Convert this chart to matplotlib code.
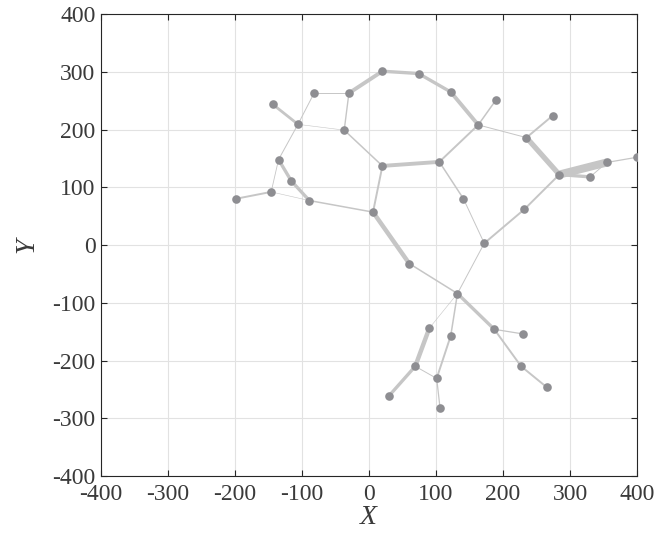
import numpy as np
import matplotlib
matplotlib.use("Agg")
import matplotlib.pyplot as plt

plt.rcParams['font.family'] = ['Liberation Serif', 'DejaVu Serif']
plt.rcParams['mathtext.fontset'] = 'custom'
plt.rcParams['mathtext.it'] = 'Liberation Serif:italic'
plt.rcParams['axes.unicode_minus'] = False

# node coordinates
node_x = [-199, -146, -135, -116, -89, -144, -106, -82, -30, -37,
          20, 74, 122, 20, 105, 163, 190, 235, 274, 284,
          330, 355, 400, 141, 232, 172, 6, 60, 132, 90,
          122, 187, 230, 227, 265, 69, 101, 30, 106]
node_y = [80, 92, 148, 111, 77, 244, 209, 263, 263, 199,
          301, 297, 265, 137, 144, 208, 252, 186, 224, 122,
          118, 143, 152, 80, 62, 3, 57, -32, -84, -144,
          -157, -146, -154, -210, -246, -210, -231, -261, -282]

# edges (node index pairs) and their line widths
edge_from = [0, 1, 1, 2, 3, 2, 6, 6, 6, 7, 8, 8, 10, 11, 9, 13, 13, 4, 26,
             14, 14, 23, 15, 15, 17, 17, 19, 19, 20, 21, 19, 24, 25, 27,
             28, 28, 28, 31, 31, 33, 29, 35, 35, 30, 36, 12]
edge_to = [1, 2, 4, 3, 4, 6, 5, 7, 9, 8, 9, 10, 11, 12, 13, 14, 26, 26, 27,
           15, 23, 25, 16, 17, 18, 19, 21, 20, 21, 22, 24, 25, 28, 28,
           29, 30, 31, 32, 33, 34, 35, 37, 36, 36, 38, 15]
edge_w = [1.4, 0.6, 0.4, 2.4, 2.4, 0.7, 2.0, 0.7, 0.4, 0.7, 1.0, 2.8, 2.4,
          2.4, 1.1, 2.8, 1.4, 1.1, 3.2,
          1.4, 1.1, 0.7, 1.1, 0.7, 1.4, 3.8, 5.8, 2.4, 0.7, 0.9, 1.4, 1.4,
          0.7, 1.1, 0.4, 1.1, 2.4, 0.9, 1.4, 1.4, 3.2, 2.4, 0.7, 1.4, 0.9, 2.8]

fig = plt.figure(figsize=(6.57, 5.4), dpi=100)
ax = fig.add_axes([0.1537, 0.1185, 0.8159, 0.8555])

for a, b, w in zip(edge_from, edge_to, edge_w):
    ax.plot([node_x[a], node_x[b]], [node_y[a], node_y[b]],
            color='#c6c6c6', lw=w, solid_capstyle='butt', zorder=2)

ax.plot(node_x, node_y, 'o', color='#8e8e92', markersize=6.2,
        markeredgewidth=0, zorder=3)

ax.set_xlim(-400, 400)
ax.set_ylim(-400, 400)
ax.set_xticks(np.arange(-400, 401, 100))
ax.set_yticks(np.arange(-400, 401, 100))
ax.grid(True, color='#e2e2e2', lw=0.8, zorder=0)
ax.set_axisbelow(True)
ax.tick_params(direction='in', length=4, width=0.8, colors='#262626',
               labelsize=17, top=True, right=True, labelcolor='#3a3a3a')
ax.tick_params(axis='x', pad=6)
ax.tick_params(axis='y', pad=4)
for s in ax.spines.values():
    s.set_color('#262626')
    s.set_linewidth(0.8)

ax.set_xlabel('$X$', fontsize=20, labelpad=0, color='#3a3a3a')
ax.set_ylabel('$Y$', fontsize=20, labelpad=8, color='#3a3a3a')

fig.savefig('out.png', dpi=100)
